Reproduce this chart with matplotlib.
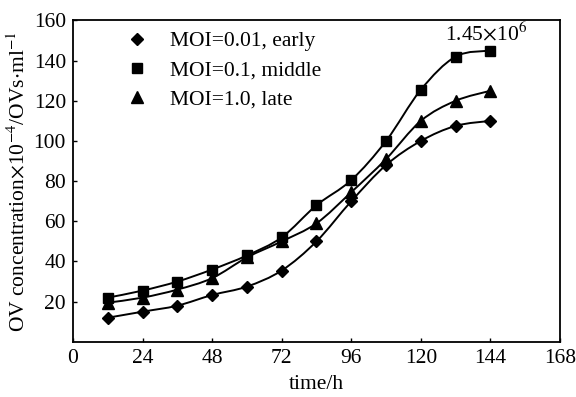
import numpy as np
import matplotlib
matplotlib.use("Agg")
import matplotlib.pyplot as plt
from matplotlib.path import Path
from matplotlib.patches import PathPatch

plt.rcParams["font.family"] = ["Liberation Serif", "DejaVu Serif"]
plt.rcParams["mathtext.fontset"] = "stix"

time_h = [12, 24, 36, 48, 60, 72, 84, 96, 108, 120, 132, 144]
moi_001_early = [12, 15, 18, 23.3, 27.5, 35.5, 50, 70, 88, 100, 107.5, 110]
moi_01_middle = [22, 25.5, 30, 36, 43, 52, 68, 80.5, 100, 125.5, 142, 145]
moi_10_late = [19.5, 22, 26, 31.7, 42, 50, 59, 74.5, 91, 110, 120, 125]

series = [
    ("MOI=0.01, early", moi_001_early, "D", 6.5),
    ("MOI=0.1, middle", moi_01_middle, "s", 7.5),
    ("MOI=1.0, late", moi_10_late, "^", 8),
]

FS = 15.5


def smooth_path(x, y):
    # Catmull-Rom through the points, expressed as cubic Bezier segments
    p = np.column_stack([x, y]).astype(float)
    verts, codes = [p[0]], [Path.MOVETO]
    for i in range(len(p) - 1):
        p0 = p[i - 1] if i > 0 else p[i]
        p3 = p[i + 2] if i + 2 < len(p) else p[i + 1]
        c1 = p[i] + (p[i + 1] - p0) / 6
        c2 = p[i + 1] - (p3 - p[i]) / 6
        verts += [c1, c2, p[i + 1]]
        codes += [Path.CURVE4] * 3
    return Path(verts, codes)


fig = plt.figure(figsize=(5.76, 3.97), dpi=100)
ax = fig.add_axes([0.1267, 0.139, 0.8455, 0.8095])

for label, vals, mk, ms in series:
    ax.add_patch(PathPatch(smooth_path(time_h, vals), fill=False,
                           edgecolor="black", lw=1.4))
    ax.plot(time_h, vals, ls="none", marker=mk, ms=ms, color="black",
            label=label)

ax.set_xlim(0, 168)
ax.set_ylim(0, 160)
ax.set_xticks(range(0, 169, 24))
ax.set_yticks(range(20, 161, 20))
ax.tick_params(direction="in", length=3, width=1, labelsize=FS, pad=5)
for s in ax.spines.values():
    s.set_linewidth(1.3)

ax.set_xlabel("time/h", fontsize=FS, labelpad=5)
ax.set_ylabel(r"OV concentration$\times$10$^{-4}$/OVs$\cdot$ml$^{-1}$",
              fontsize=FS, labelpad=3)

ax.text(142.5, 147.5, r"1.45$\times$10$^{6}$", fontsize=FS, ha="center",
        va="bottom")

ax.legend(loc="upper left", bbox_to_anchor=(0.088, 1.0), frameon=False,
          fontsize=FS, handlelength=1.0, handletextpad=1.0,
          labelspacing=0.42, borderaxespad=0.1)

fig.savefig("out.png", dpi=100)
